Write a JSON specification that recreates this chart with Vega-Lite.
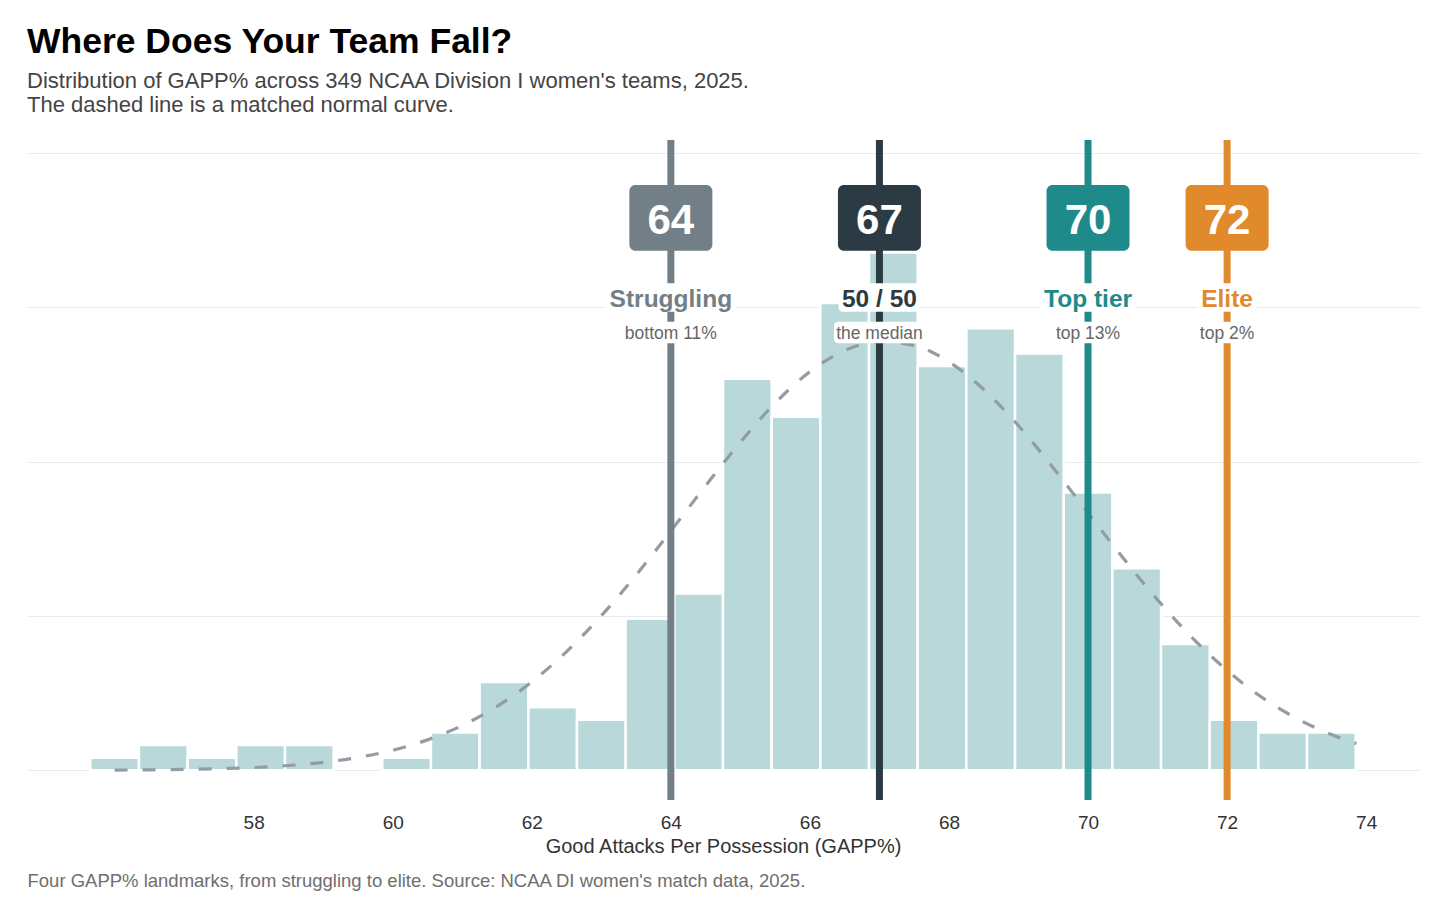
{
  "$schema": "https://vega.github.io/schema/vega-lite/v6.json",
  "width": 1392,
  "height": 660,
  "autosize": {"type": "none"},
  "padding": {"left": 27, "top": 140, "right": 37, "bottom": 110},
  "background": "white",
  "title": {
    "text": "Where Does Your Team Fall?",
    "subtitle": [
      "Distribution of GAPP% across 349 NCAA Division I women's teams, 2025.",
      "The dashed line is a matched normal curve."
    ],
    "anchor": "start",
    "frame": "group",
    "orient": "top",
    "fontSize": 35.5,
    "fontWeight": "bold",
    "color": "#000000",
    "subtitleFontSize": 22,
    "subtitleColor": "#444444",
    "subtitleLineHeight": 24,
    "subtitlePadding": 10,
    "offset": 21
  },
  "config": {
    "view": {"stroke": null},
    "font": "Liberation Sans"
  },
  "datasets": {
    "bins": [
      {"lo": 55.65, "hi": 56.35, "n": 1},
      {"lo": 56.35, "hi": 57.05, "n": 2},
      {"lo": 57.05, "hi": 57.75, "n": 1},
      {"lo": 57.75, "hi": 58.45, "n": 2},
      {"lo": 58.45, "hi": 59.15, "n": 2},
      {"lo": 59.85, "hi": 60.55, "n": 1},
      {"lo": 60.55, "hi": 61.25, "n": 3},
      {"lo": 61.25, "hi": 61.95, "n": 7},
      {"lo": 61.95, "hi": 62.65, "n": 5},
      {"lo": 62.65, "hi": 63.35, "n": 4},
      {"lo": 63.35, "hi": 64.05, "n": 12},
      {"lo": 64.05, "hi": 64.75, "n": 14},
      {"lo": 64.75, "hi": 65.45, "n": 31},
      {"lo": 65.45, "hi": 66.15, "n": 28},
      {"lo": 66.15, "hi": 66.85, "n": 37},
      {"lo": 66.85, "hi": 67.55, "n": 41},
      {"lo": 67.55, "hi": 68.25, "n": 32},
      {"lo": 68.25, "hi": 68.95, "n": 35},
      {"lo": 68.95, "hi": 69.65, "n": 33},
      {"lo": 69.65, "hi": 70.35, "n": 22},
      {"lo": 70.35, "hi": 71.05, "n": 16},
      {"lo": 71.05, "hi": 71.75, "n": 10},
      {"lo": 71.75, "hi": 72.45, "n": 4},
      {"lo": 72.45, "hi": 73.15, "n": 3},
      {"lo": 73.15, "hi": 73.85, "n": 3}
    ],
    "curve": [
      {"x": 56.0, "n": 0.02}, {"x": 56.5, "n": 0.04}, {"x": 57.0, "n": 0.07},
      {"x": 57.5, "n": 0.13}, {"x": 58.0, "n": 0.22}, {"x": 58.5, "n": 0.38},
      {"x": 59.0, "n": 0.63}, {"x": 59.5, "n": 1.02}, {"x": 60.0, "n": 1.59},
      {"x": 60.5, "n": 2.41}, {"x": 61.0, "n": 3.55}, {"x": 61.5, "n": 5.06},
      {"x": 62.0, "n": 7.0}, {"x": 62.5, "n": 9.4}, {"x": 63.0, "n": 12.24},
      {"x": 63.5, "n": 15.46}, {"x": 64.0, "n": 18.95}, {"x": 64.5, "n": 22.53},
      {"x": 65.0, "n": 25.98}, {"x": 65.5, "n": 29.07}, {"x": 66.0, "n": 31.56},
      {"x": 66.5, "n": 33.23}, {"x": 67.0, "n": 33.94}, {"x": 67.5, "n": 33.63},
      {"x": 68.0, "n": 32.33}, {"x": 68.5, "n": 30.15}, {"x": 69.0, "n": 27.28},
      {"x": 69.5, "n": 23.94}, {"x": 70.0, "n": 20.38}, {"x": 70.5, "n": 16.84},
      {"x": 71.0, "n": 13.49}, {"x": 71.5, "n": 10.49}, {"x": 72.0, "n": 7.91},
      {"x": 72.5, "n": 5.78}, {"x": 73.0, "n": 4.11}, {"x": 73.5, "n": 2.83},
      {"x": 73.86, "n": 2.12}
    ],
    "marks": [
      {"v": 64, "tier": "Struggling", "sub": "bottom 11%"},
      {"v": 67, "tier": "50 / 50", "sub": "the median"},
      {"v": 70, "tier": "Top tier", "sub": "top 13%"},
      {"v": 72, "tier": "Elite", "sub": "top 2%"}
    ]
  },
  "layer": [
    {
      "data": {"name": "bins"},
      "mark": {"type": "bar", "fill": "#b8d8da", "stroke": "white", "strokeWidth": 2.5},
      "encoding": {
        "x": {
          "field": "lo",
          "type": "quantitative",
          "scale": {"domain": [54.74, 74.76], "nice": false, "zero": false, "padding": 0},
          "axis": {
            "values": [58, 60, 62, 64, 66, 68, 70, 72, 74],
            "grid": false,
            "ticks": false,
            "tickSize": 0,
            "domain": false,
            "labelFlush": false,
            "labelFontSize": 19,
            "labelColor": "#333333",
            "labelPadding": 13,
            "title": "Good Attacks Per Possession (GAPP%)",
            "titleFontSize": 20,
            "titleFontWeight": "normal",
            "titleColor": "#333333",
            "titleY": 52,
            "titleBaseline": "alphabetic"
          }
        },
        "x2": {"field": "hi"},
        "y": {
          "field": "n",
          "type": "quantitative",
          "scale": {"domain": [-2.35, 49.9], "nice": false, "zero": false, "padding": 0},
          "axis": {
            "values": [0, 12.215, 24.43, 36.645, 48.86],
            "grid": true,
            "gridColor": "#ebebeb",
            "gridWidth": 1.2,
            "labels": false,
            "ticks": false,
            "domain": false,
            "title": null
          }
        },
        "y2": {"datum": 0}
      }
    },
    {
      "data": {"name": "curve"},
      "mark": {"type": "line", "color": "#939ca4", "strokeWidth": 3.2, "strokeDash": [13, 15], "interpolate": "monotone"},
      "encoding": {
        "x": {
          "field": "x",
          "type": "quantitative",
          "axis": {
            "orient": "bottom",
            "labels": false,
            "ticks": false,
            "domain": false,
            "grid": false,
            "title": "Four GAPP% landmarks, from struggling to elite. Source: NCAA DI women's match data, 2025.",
            "titleFontSize": 18.5,
            "titleFontWeight": "normal",
            "titleColor": "#6e6e6e",
            "titleAnchor": "start",
            "titleAlign": "left",
            "titleX": 0,
            "titleY": 86,
            "titleBaseline": "alphabetic"
          }
        },
        "y": {"field": "n", "type": "quantitative"}
      }
    },
    {
      "data": {"name": "marks"},
      "mark": {"type": "rule", "strokeWidth": 7},
      "encoding": {
        "x": {"field": "v", "type": "quantitative", "axis": null},
        "color": {
          "field": "tier",
          "type": "nominal",
          "scale": {
            "domain": ["Struggling", "50 / 50", "Top tier", "Elite"],
            "range": ["#737f86", "#2c3a44", "#1e8a8a", "#e08a2c"]
          },
          "legend": null
        }
      }
    },
    {
      "data": {"name": "marks"},
      "mark": {"type": "bar", "cornerRadius": 6},
      "encoding": {
        "x": {"field": "v", "type": "quantitative", "axis": null},
        "y": {"datum": 41.13},
        "y2": {"datum": 46.33},
        "size": {"value": 83},
        "color": {"field": "tier", "type": "nominal", "legend": null}
      }
    },
    {
      "data": {"name": "marks"},
      "mark": {"type": "text", "color": "white", "fontSize": 42, "fontWeight": "bold", "baseline": "alphabetic", "align": "center"},
      "encoding": {
        "x": {"field": "v", "type": "quantitative", "axis": null},
        "y": {"datum": 42.45},
        "text": {"field": "v", "type": "quantitative"}
      }
    },
    {
      "data": {"name": "marks"},
      "mark": {"type": "bar", "color": "white", "cornerRadius": 4},
      "encoding": {
        "x": {"field": "v", "type": "quantitative", "axis": null},
        "y": {"datum": 36.3},
        "y2": {"datum": 38.55},
        "size": {
          "field": "v",
          "type": "quantitative",
          "scale": {"type": "threshold", "domain": [65.5, 68.5, 71], "range": [131, 82, 96, 58]},
          "legend": null
        }
      }
    },
    {
      "data": {"name": "marks"},
      "mark": {"type": "text", "fontSize": 24.5, "fontWeight": "bold", "baseline": "alphabetic", "align": "center"},
      "encoding": {
        "x": {"field": "v", "type": "quantitative", "axis": null},
        "y": {"datum": 36.71},
        "text": {"field": "tier"},
        "color": {"field": "tier", "type": "nominal", "legend": null}
      }
    },
    {
      "data": {"name": "marks"},
      "mark": {"type": "bar", "color": "white", "cornerRadius": 4},
      "encoding": {
        "x": {"field": "v", "type": "quantitative", "axis": null},
        "y": {"datum": 33.8},
        "y2": {"datum": 35.51},
        "size": {
          "field": "v",
          "type": "quantitative",
          "scale": {"type": "threshold", "domain": [65.5, 68.5, 71], "range": [98, 91, 69, 60]},
          "legend": null
        }
      }
    },
    {
      "data": {"name": "marks"},
      "mark": {"type": "text", "fontSize": 17.5, "color": "#666666", "baseline": "alphabetic", "align": "center"},
      "encoding": {
        "x": {"field": "v", "type": "quantitative", "axis": null},
        "y": {"datum": 34.12},
        "text": {"field": "sub"}
      }
    }
  ],
  "resolve": {"axis": {"x": "independent"}, "scale": {"size": "independent"}}
}
